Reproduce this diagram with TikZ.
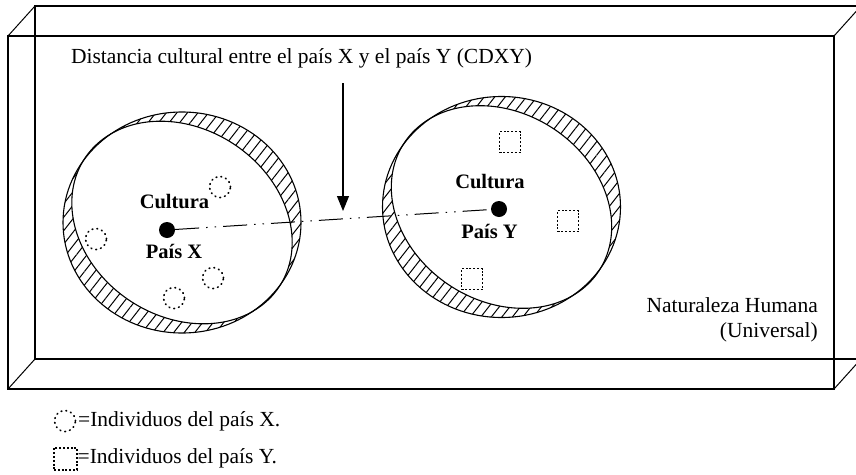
\documentclass[tikz,border=0pt]{standalone}
\usepackage{fontspec}
\setmainfont{Liberation Serif}
\usetikzlibrary{patterns.meta,arrows.meta}
\begin{document}
\begin{tikzpicture}[x=1pt,y=-1pt,
  boxline/.style={line width=1.2pt},
  diagline/.style={line width=1pt},
  ring/.style={line width=1.1pt},
  hatch/.style={pattern={Lines[angle=52,distance=8.3pt,line width=1pt]}},
  txt/.style={inner sep=0pt,font=\fontsize{21.5}{24}\selectfont},
  btxt/.style={inner sep=0pt,font=\fontsize{20.5}{24}\selectfont\bfseries},
  coredot/.style={circle,fill=black,minimum size=16pt,inner sep=0pt},
  indx/.style={circle,draw,minimum size=21pt,inner sep=0pt,line width=1.7pt,line cap=round,dash pattern=on 0.7pt off 4.2pt},
  indy/.style={rectangle,draw,minimum size=21pt,inner sep=0pt,line width=1.1pt,dash pattern=on 2pt off 1.8pt},
  dashdotdot/.style={line width=1pt,dash pattern=on 24pt off 7pt on 1.5pt off 7pt on 1.5pt off 7pt},
  pointer/.style={line width=1.1pt,-{Triangle[length=15pt,width=12pt]}}
]
\useasboundingbox (0,0) rectangle (856,474);
\fill[white] (0,0) rectangle (856,474);
\clip (0,0) rectangle (856,474);

% box
\draw[boxline] (862,6) -- (35,6) -- (35,359) -- (862,359);
\draw[boxline] (8,36) rectangle (834,389);
\draw[diagline] (8,36) -- (35,6);
\draw[diagline] (8,389) -- (35,359);
\draw[diagline] (834,36) -- (861,6);
\draw[diagline] (834,389) -- (861,359);

% rings: outer axis-aligned ellipse, inner tilted ellipse
\foreach \cx/\cy in {182/222.5, 501.5/207}{
  \path[hatch,even odd rule]
    (\cx,\cy) ellipse [x radius=119pt, y radius=110.5pt]
    plot[domain=0:360,samples=181,variable=\t]
      ({\cx + 116.5*cos(\t)*cos(-33.3) - 94*sin(\t)*sin(-33.3)},
       {\cy - (116.5*cos(\t)*sin(-33.3) + 94*sin(\t)*cos(-33.3))}) -- cycle;
  \draw[ring] (\cx,\cy) ellipse [x radius=119pt, y radius=110.5pt];
  \draw[ring]
    plot[domain=0:360,samples=181,variable=\t]
      ({\cx + 116.5*cos(\t)*cos(-33.3) - 94*sin(\t)*sin(-33.3)},
       {\cy - (116.5*cos(\t)*sin(-33.3) + 94*sin(\t)*cos(-33.3))}) -- cycle;
}

% cores
\node[coredot] (dotX) at (167,230) {};
\node[coredot] (dotY) at (499,209) {};
\draw[dashdotdot] (dotX) -- (dotY);

\node[btxt,anchor=base] (culX) at (174.5,208) {Cultura};
\node[btxt,anchor=base] (paisX) at (174,258) {País X};
\node[btxt,anchor=base] (culY) at (490,188) {Cultura};
\node[btxt,anchor=base] (paisY) at (489.5,238) {País Y};

% individuals X
\node[indx] (ix1) at (220,187) {};
\node[indx] (ix2) at (96,239) {};
\node[indx] (ix3) at (213,278) {};
\node[indx] (ix4) at (174,298) {};

% individuals Y
\node[indy] (iy1) at (510,142) {};
\node[indy] (iy2) at (568,221) {};
\node[indy] (iy3) at (472,279) {};

% title and arrow
\node[txt,anchor=base] (title) at (301.5,63) {Distancia cultural entre el país X y el país Y (CDXY)};
\coordinate (arrS) at (343,83);
\coordinate (arrE) at (343,211);
\draw[pointer] (arrS) -- (arrE);

% nature label
\node[txt,anchor=base east] (nat1) at (818,312) {Naturaleza Humana};
\node[txt,anchor=base east] (nat2) at (818,337) {(Universal)};

% legend
\node[indx] (legX) at (65,421) {};
\node[txt,anchor=base west] (legXt) at (78,426) {=Individuos del país X.};
\node[indy,minimum width=23pt,minimum height=22pt] (legY) at (65.5,459) {};
\node[txt,anchor=base west] (legYt) at (77.5,463) {=Individuos del país Y.};
\end{tikzpicture}
\end{document}
